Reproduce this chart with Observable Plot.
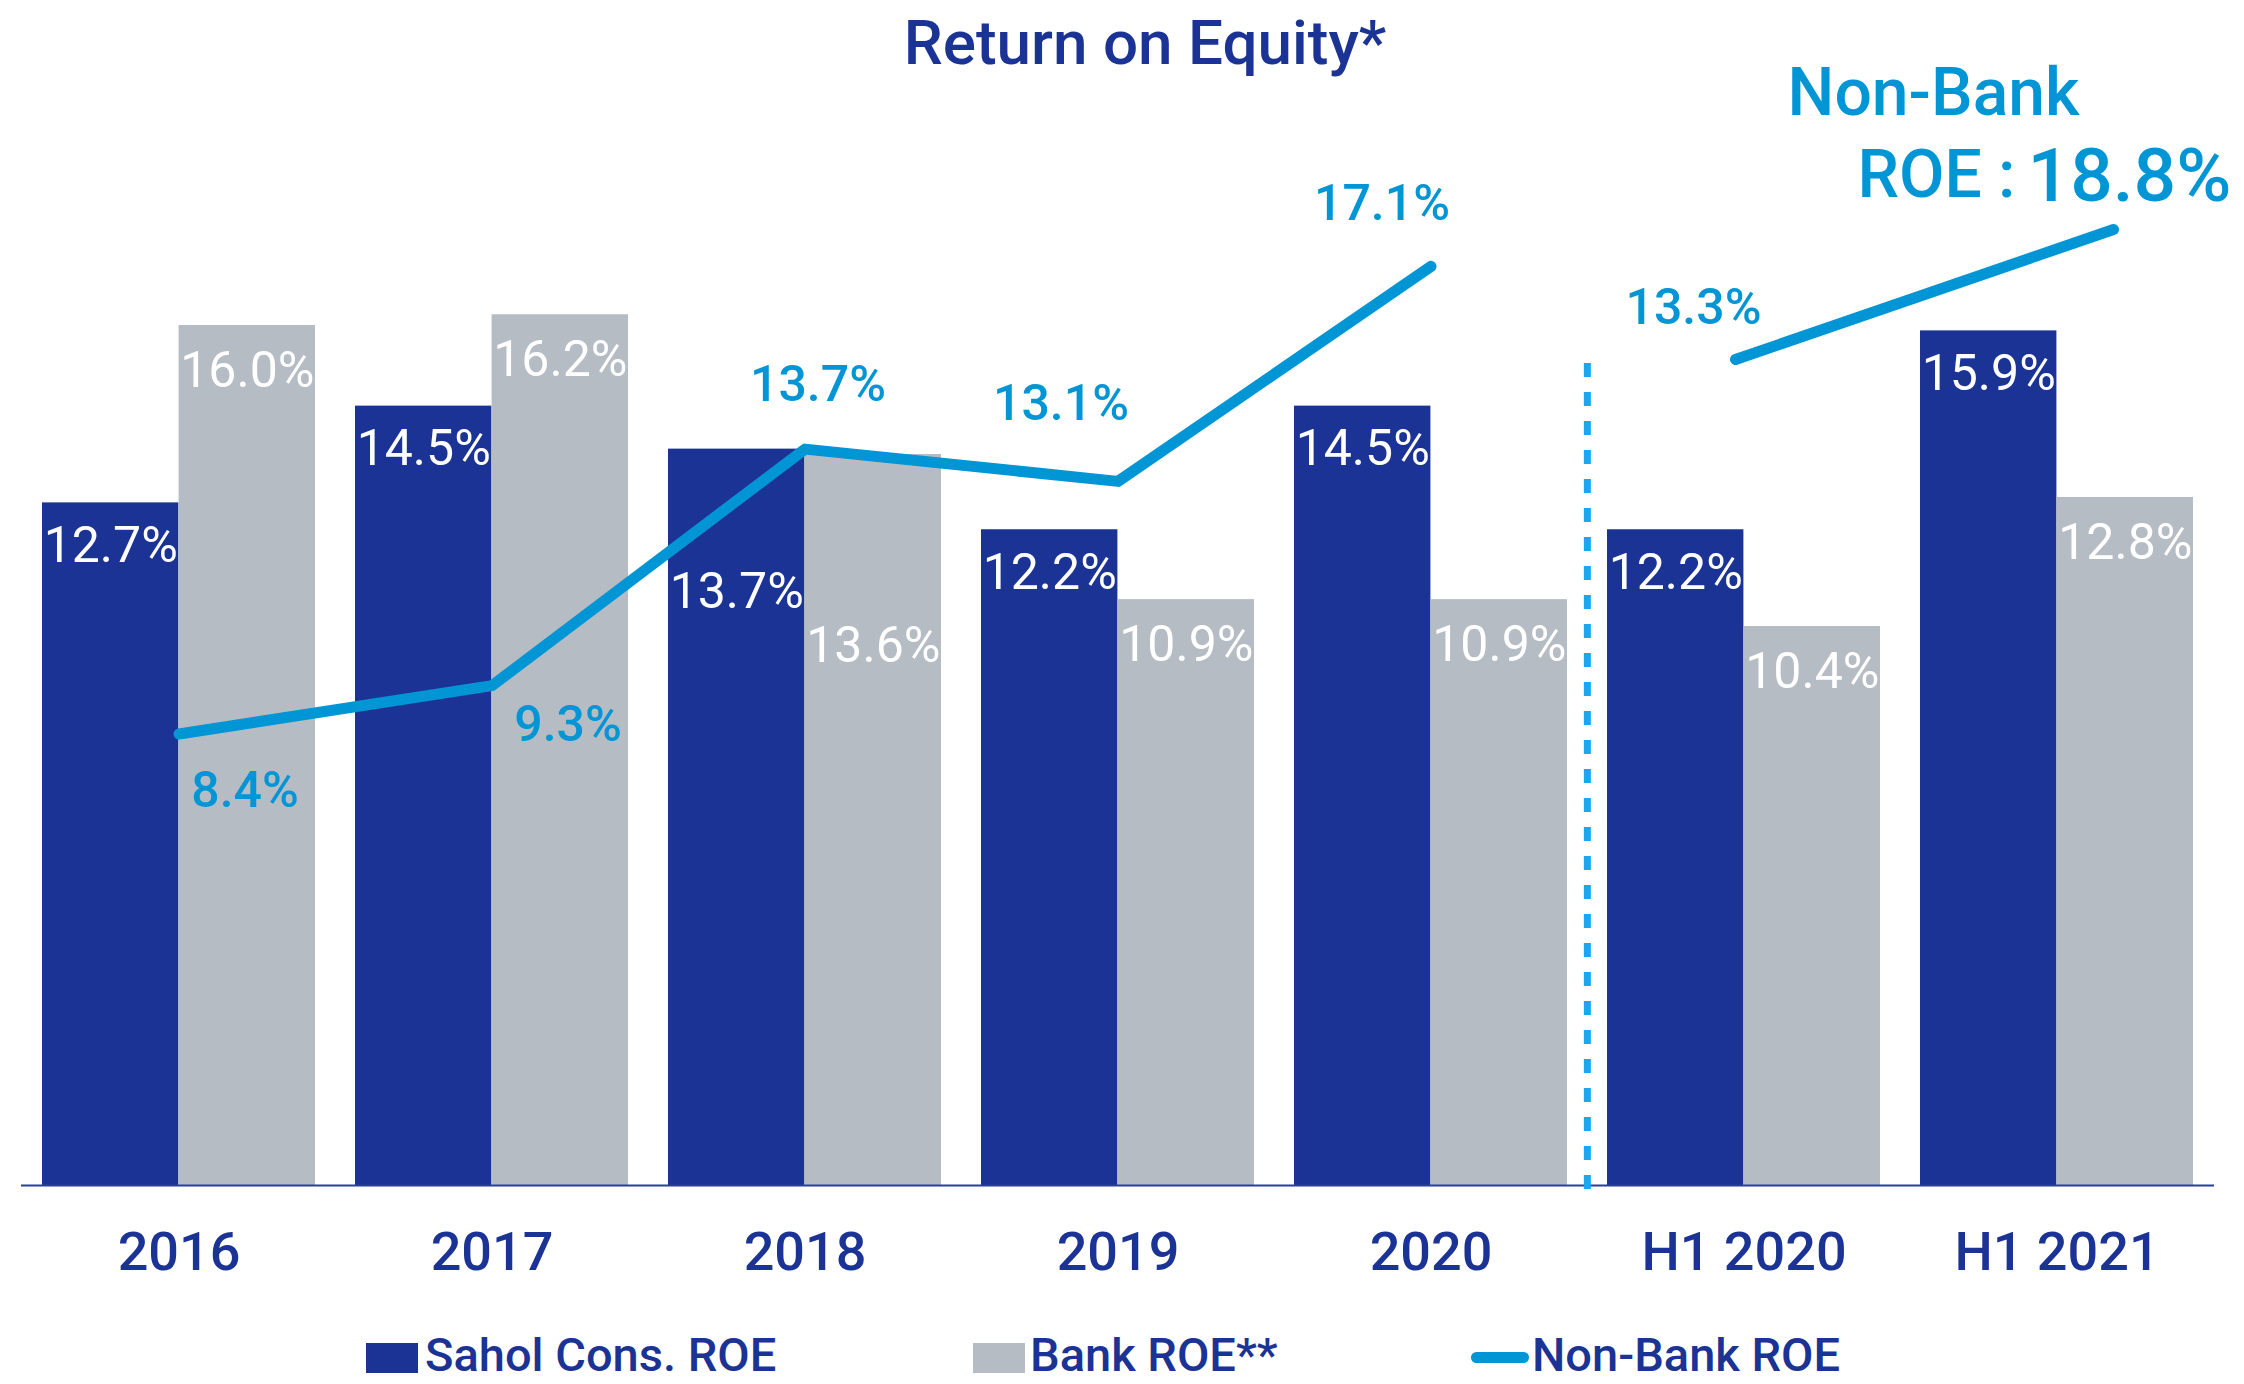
<!DOCTYPE html>
<html>
<head>
<meta charset="utf-8">
<script src="https://cdn.jsdelivr.net/npm/d3@7"></script>
<script src="https://cdn.jsdelivr.net/npm/@observablehq/plot@0.6"></script>
<style>
  html, body { margin: 0; padding: 0; background: #ffffff; }
  body { font-family: Roboto, "Noto Sans", sans-serif; }
  #wrap { position: relative; width: 2244px; height: 1384px; overflow: hidden; background: #fff; }
  #title { position: absolute; left: 0; top: 0; width: 2290px; height: 86px; line-height: 86px;
           text-align: center; font-size: 62px; font-weight: 500; color: #1B3394; }
  #chart, #overlay { position: absolute; left: 0; top: 90px; }
  #overlay { pointer-events: none; }
  .lg { position: absolute; font-size: 47px; font-weight: 500; color: #1B3394; line-height: 56px; height: 56px; top: 1327px; white-space: nowrap; }
  .sw { position: absolute; }
</style>
</head>
<body>
<div id="wrap">
  <div id="title">Return on Equity*</div>
  <div id="chart"></div>
  <div id="overlay"></div>
  <div id="legend"></div>
</div>
<script>
// ---------------- data ----------------
const categories = ["2016", "2017", "2018", "2019", "2020", "H1 2020", "H1 2021"];
const saholROE   = [12.7, 14.5, 13.7, 12.2, 14.5, 12.2, 15.9];
const bankROE    = [16.0, 16.2, 13.6, 10.9, 10.9, 10.4, 12.8];
const nonBankROE = [8.4, 9.3, 13.7, 13.1, 17.1, 13.3, 18.8];
const periodKind = ["year", "year", "year", "year", "year", "half", "half"];
const seriesNames = ["Sahol Cons. ROE", "Bank ROE**", "Non-Bank ROE"];

const rows = categories.map((c, i) => ({
  cat: c, sahol: saholROE[i], bank: bankROE[i], nonBank: nonBankROE[i], kind: periodKind[i]
}));
const annual = rows.filter(d => d.kind === "year");
const half = rows.filter(d => d.kind === "half");

// ---------------- style ----------------
const C_DARK = "#1B3394", C_GRAY = "#B5BCC3", C_LINE = "#0095D5", C_DASH = "#16A8F4";
const W = 2244, H = 1210, mL = 21, mR = 30, mT = 20, mB = 115;
const pI = 0.128, pO = 0.064;
const step = (W - mL - mR) / (categories.length - pI + 2 * pO);
const bw = step * (1 - pI);
const fmt = v => v.toFixed(1) + "%";

// label offsets for white value labels (special placement for 2018)
const barLabelDy = { sahol: { default: 43, "2018": 143 }, bank: { default: 45, "2018": 191 } };
// offsets for non-bank line labels
const lineLabelOffset = {
  "2016": [66, 57], "2017": [76, 39], "2018": [13, -64], "2019": [-57, -77], "2020": [-49, -62],
  "H1 2020": [-42, -52]
};

const barLabelMarks = [];
for (const key of ["sahol", "bank"]) {
  const side = key === "sahol" ? -1 : 1;
  const groups = [
    rows.filter(d => barLabelDy[key][d.cat] === undefined),
    ...rows.filter(d => barLabelDy[key][d.cat] !== undefined).map(d => [d])
  ];
  for (const g of groups) {
    const dy = barLabelDy[key][g[0].cat] ?? barLabelDy[key].default;
    barLabelMarks.push(Plot.text(g, {
      x: "cat", y: key, text: d => fmt(d[key]), dx: side * bw / 4, dy,
      fill: "white", fontSize: 50, fontWeight: 400
    }));
  }
}
const lineLabelMarks = annual.map(d => Plot.text([d], {
  x: "cat", y: "nonBank", text: d => fmt(d.nonBank),
  dx: lineLabelOffset[d.cat][0], dy: lineLabelOffset[d.cat][1],
  fill: C_LINE, fontSize: 50, fontWeight: 500
}));

const chart = Plot.plot({
  width: W, height: H,
  marginLeft: mL, marginRight: mR, marginTop: mT, marginBottom: mB,
  style: { fontFamily: "Roboto, sans-serif", background: "transparent", overflow: "visible" },
  x: { domain: categories, paddingInner: pI, paddingOuter: pO, label: null },
  y: { domain: [0, 20], axis: null },
  marks: [
    Plot.barY(rows, { x: "cat", y: "sahol", fill: C_DARK, insetRight: bw / 2, insetLeft: 0 }),
    Plot.barY(rows, { x: "cat", y: "bank", fill: C_GRAY, insetLeft: bw / 2, insetRight: 0 }),
    Plot.ruleY([0], { stroke: "#2A3F9D", strokeWidth: 2 }),
    Plot.axisX({ tickSize: 0, tickPadding: 46, fontSize: 54, fontWeight: 500, fill: C_DARK, label: null }),
    Plot.ruleX(["H1 2020"], { dx: -step / 2, stroke: C_DASH, strokeWidth: 7, strokeDasharray: "14,15",
                               insetTop: 253, insetBottom: -17 }),
    Plot.line(annual, { x: "cat", y: "nonBank", stroke: C_LINE, strokeWidth: 11,
                        strokeLinecap: "round", strokeLinejoin: "round" }),
    ...barLabelMarks,
    ...lineLabelMarks
  ]
});
document.getElementById("chart").appendChild(chart);

// Overlay for the half-year non-bank segment (drawn on its own scale as in the original)
const last = half[half.length - 1];
const overlay = Plot.plot({
  width: W, height: H,
  marginLeft: mL, marginRight: mR, marginTop: mT, marginBottom: mB,
  style: { fontFamily: "Roboto, sans-serif", background: "transparent", overflow: "visible" },
  x: { type: "point", domain: half.map(d => d.cat), range: [1735, 2113], padding: 0, axis: null },
  y: { domain: d3.extent(half, d => d.nonBank), range: [269, 139], axis: null },
  marks: [
    Plot.line(half, { x: "cat", y: "nonBank", stroke: C_LINE, strokeWidth: 11,
                      strokeLinecap: "round", strokeLinejoin: "round" }),
    Plot.text([half[0]], { x: "cat", y: "nonBank", text: d => fmt(d.nonBank),
                           dx: lineLabelOffset["H1 2020"][0], dy: lineLabelOffset["H1 2020"][1],
                           fill: C_LINE, fontSize: 50, fontWeight: 500 }),
    Plot.text([last], { x: "cat", y: "nonBank", text: () => "Non-Bank", lineAnchor: "bottom",
                        dx: -180, dy: -115, fill: C_LINE, fontSize: 66, fontWeight: 500 }),
    Plot.text([last], { x: "cat", y: "nonBank", text: () => "ROE :", lineAnchor: "bottom", textAnchor: "end",
                        dx: -98, dy: -33, fill: C_LINE, fontSize: 66, fontWeight: 500 }),
    Plot.text([last], { x: "cat", y: "nonBank", text: d => fmt(d.nonBank), lineAnchor: "bottom", textAnchor: "start",
                        dx: -86, dy: -29, fill: C_LINE, fontSize: 75, fontWeight: 500 })
  ]
});
document.getElementById("overlay").appendChild(overlay);

// ---------------- legend ----------------
const legend = document.getElementById("legend");
const legendItems = [
  { name: seriesNames[0], kind: "rect", color: C_DARK, swLeft: 366, txtLeft: 425 },
  { name: seriesNames[1], kind: "rect", color: C_GRAY, swLeft: 973, txtLeft: 1030 },
  { name: seriesNames[2], kind: "line", color: C_LINE, swLeft: 1471, txtLeft: 1532 }
];
for (const it of legendItems) {
  const sw = document.createElement("div");
  sw.className = "sw";
  sw.style.left = it.swLeft + "px";
  sw.style.background = it.color;
  if (it.kind === "rect") {
    sw.style.top = "1343px"; sw.style.width = "52px"; sw.style.height = "30px";
  } else {
    sw.style.top = "1352px"; sw.style.width = "58px"; sw.style.height = "11px"; sw.style.borderRadius = "6px";
  }
  legend.appendChild(sw);
  const t = document.createElement("div");
  t.className = "lg";
  t.style.left = it.txtLeft + "px";
  t.textContent = it.name;
  legend.appendChild(t);
}
</script>
</body>
</html>
